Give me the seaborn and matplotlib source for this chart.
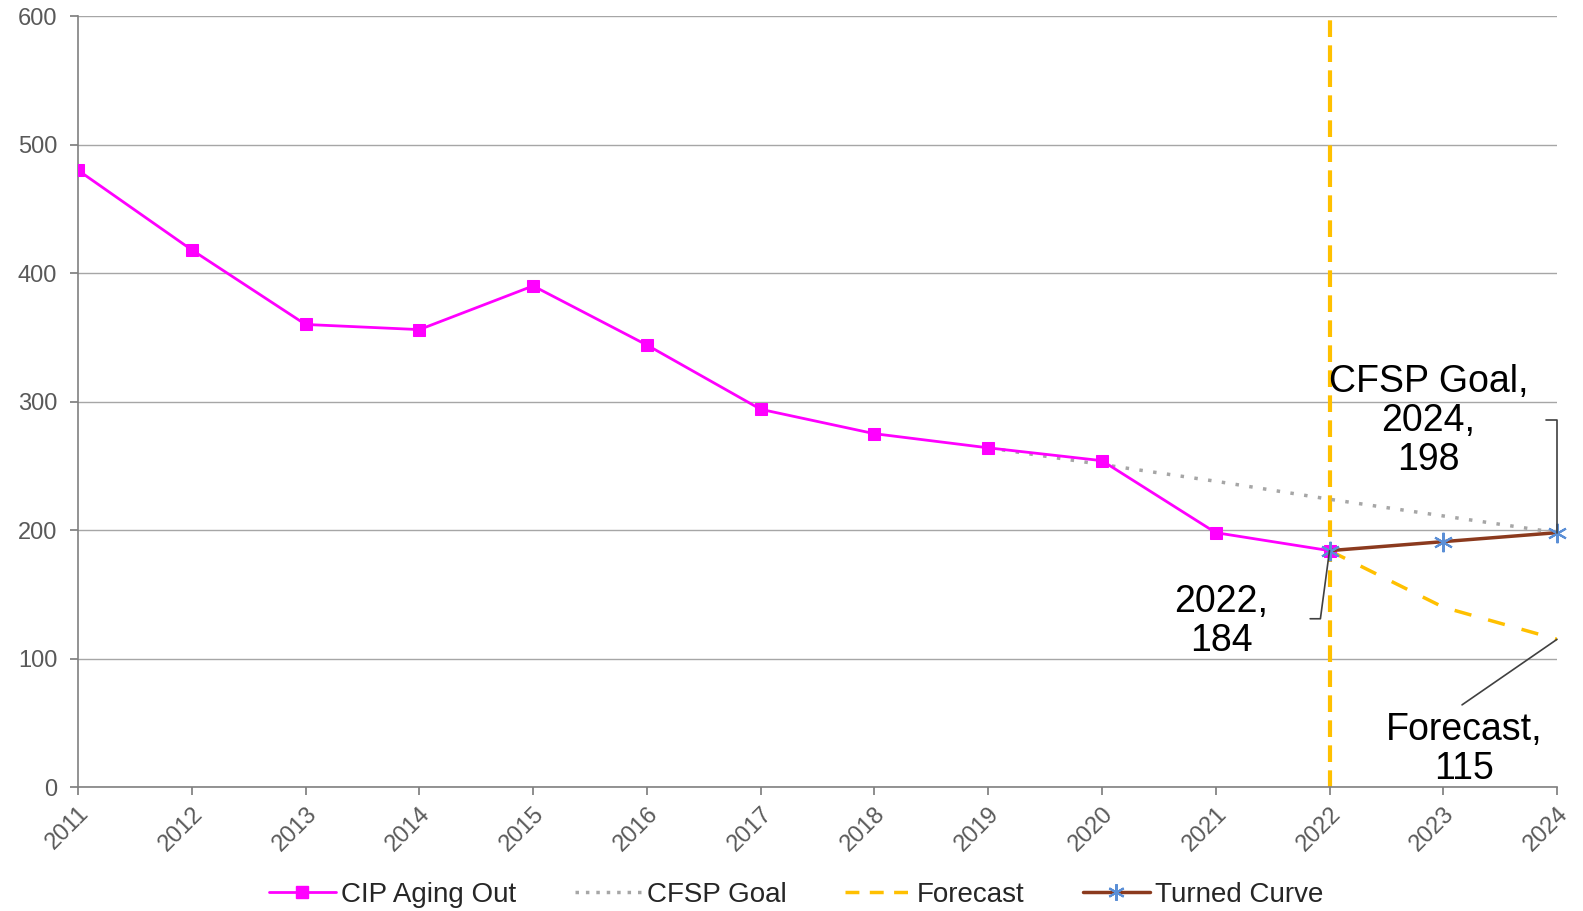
import matplotlib
matplotlib.use("Agg")
import matplotlib.pyplot as plt
import seaborn as sns
import pandas as pd
from matplotlib.lines import Line2D

years = list(range(2011, 2025))
cip_years = list(range(2011, 2023))
cip_values = [480, 418, 360, 356, 390, 344, 294, 275, 264, 254, 198, 184]
goal_years = [2019, 2020, 2021, 2022, 2023, 2024]
goal_values = [264, 251, 238, 224, 211, 198]
forecast_years = [2022, 2023, 2024]
forecast_values = [184, 140, 115]
turned_years = [2022, 2023, 2024]
turned_values = [184, 191, 198]
y_ticks = [0, 100, 200, 300, 400, 500, 600]

sns.set_theme(style="white")
plt.rcParams['font.family'] = ['Liberation Sans', 'DejaVu Sans']

fig = plt.figure(figsize=(15.83, 9.11), dpi=100)
ax = fig.add_axes([0.0493, 0.136, 0.9343, 0.8464])

MAG = "#FF00FF"
GOLD = "#FFC000"
BROWN = "#8B3A1E"
BLUE = "#5B8FD6"
GRAY_TXT = "#595959"

ax.set_xlim(2011, 2024)
ax.set_ylim(0, 600)
ax.set_yticks(y_ticks)
ax.set_xticks(years)
ax.yaxis.grid(True, color="#A6A6A6", linewidth=1.0)
ax.set_axisbelow(True)

# vertical forecast boundary
ax.axvline(2022, color=GOLD, linewidth=3, linestyle=(0, (4, 2)), zorder=1)

df_goal = pd.DataFrame({"year": goal_years, "v": goal_values})
sns.lineplot(data=df_goal, x="year", y="v", ax=ax, color="#A6A6A6",
             linestyle=(0, (1, 3)), linewidth=2.5, zorder=2)
df_fc = pd.DataFrame({"year": forecast_years, "v": forecast_values})
sns.lineplot(data=df_fc, x="year", y="v", ax=ax, color=GOLD,
             linestyle=(0, (5, 5)), linewidth=2.5, zorder=2)
df_cip = pd.DataFrame({"year": cip_years, "v": cip_values})
sns.lineplot(data=df_cip, x="year", y="v", ax=ax, color=MAG, linewidth=2,
             marker="s", markersize=8, markeredgecolor=MAG, zorder=3)
df_tc = pd.DataFrame({"year": turned_years, "v": turned_values})
sns.lineplot(data=df_tc, x="year", y="v", ax=ax, color=BROWN, linewidth=2.5,
             marker=(6, 2, 0), markersize=14, markeredgecolor=BLUE,
             markeredgewidth=1.5, zorder=4, clip_on=False)

ax.set_xlabel("")
ax.set_ylabel("")
for s in ["top", "right"]:
    ax.spines[s].set_visible(False)
for s in ["left", "bottom"]:
    ax.spines[s].set_color("#808080")
    ax.spines[s].set_linewidth(1.2)
ax.tick_params(axis="both", which="both", direction="out", length=6,
               color="#808080", labelcolor=GRAY_TXT, labelsize=17)
ax.tick_params(axis="y", left=True, pad=9)
ax.tick_params(axis="x", bottom=True, pad=5)
for lab in ax.get_xticklabels():
    lab.set_rotation(45)
    lab.set_ha("right")
    lab.set_rotation_mode("anchor")

# annotations
fs = 27
ax.text(2022.87, 285, "CFSP Goal,\n2024,\n198", ha="center", va="center",
        fontsize=fs, color="black", linespacing=1.1)
ax.plot([2023.9, 2024, 2024], [286, 286, turned_values[-1]], color="#404040",
        linewidth=1.2, clip_on=False, zorder=5)
ax.text(2021.05, 129, "2022,\n184", ha="center", va="center",
        fontsize=fs, color="black", linespacing=1.1)
ax.plot([2021.83, 2021.92, 2022], [131, 131, turned_values[0]], color="#404040",
        linewidth=1.2, clip_on=False, zorder=5)
ax.text(2023.18, 29, "Forecast,\n115", ha="center", va="center",
        fontsize=fs, color="black", linespacing=1.1)
ax.plot([2023.165, 2024], [64, forecast_values[-1]], color="#404040",
        linewidth=1.2, clip_on=False, zorder=5)

handles = [
    Line2D([], [], color=MAG, linewidth=2, marker="s", markersize=8),
    Line2D([], [], color="#A6A6A6", linewidth=2.5, linestyle=(0, (1, 2))),
    Line2D([], [], color=GOLD, linewidth=2.5, linestyle=(0, (4, 3))),
    Line2D([], [], color=BROWN, linewidth=2.5, marker=(6, 2, 0), markersize=12,
           markeredgecolor=BLUE, markeredgewidth=1.5),
]
labels = ["CIP Aging Out", "CFSP Goal", "Forecast", "Turned Curve"]
fig.legend(handles, labels, loc="center", bbox_to_anchor=(0.503, 0.018),
           ncol=4, frameon=False, fontsize=20, handlelength=2.4,
           handletextpad=0.2, columnspacing=2.1)

fig.savefig("out.png", dpi=100)
